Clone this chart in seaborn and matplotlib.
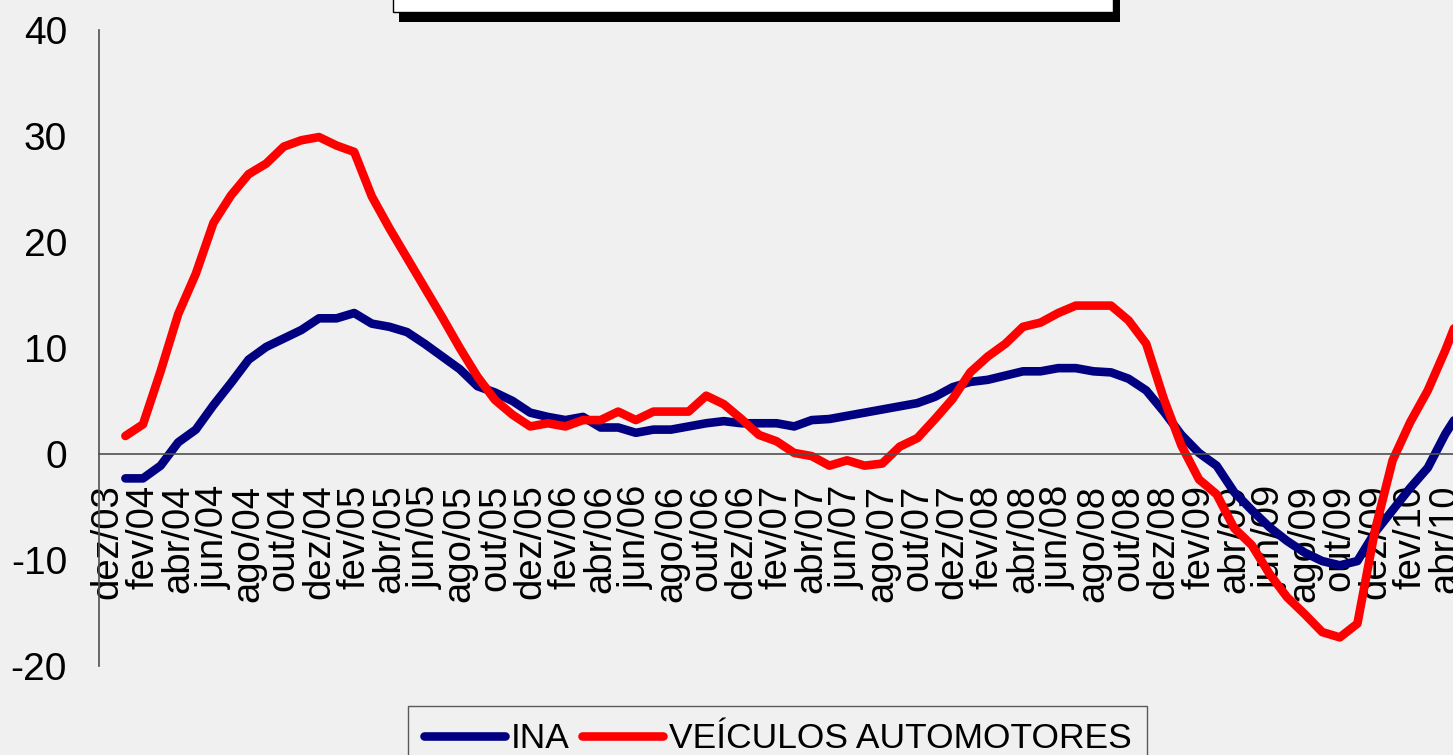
import numpy as np
import pandas as pd
import matplotlib
matplotlib.use("Agg")
import matplotlib.pyplot as plt
import seaborn as sns
from matplotlib.lines import Line2D
from matplotlib.patches import Rectangle

# Variação (%) mensal, de dez/03 a mai/10 - dez/03 sem dado
ina = [np.nan, -2.3, -2.3, -1.1, 1.1, 2.3, 4.6, 6.7, 8.9, 10.1,
       10.9, 11.7, 12.8, 12.8, 13.3, 12.3, 12.0, 11.5, 10.4, 9.2,
       8.0, 6.4, 5.8, 5.0, 3.9, 3.5, 3.2, 3.5, 2.5, 2.5,
       2.0, 2.3, 2.3, 2.6, 2.9, 3.1, 2.9, 2.9, 2.9, 2.6,
       3.2, 3.3, 3.6, 3.9, 4.2, 4.5, 4.8, 5.4, 6.3, 6.8,
       7.0, 7.4, 7.8, 7.8, 8.1, 8.1, 7.8, 7.7, 7.1, 6.0,
       4.0, 1.8, 0.1, -1.1, -3.6, -5.3, -6.9, -8.2, -9.3, -10.1,
       -10.5, -10.1, -7.4, -5.3, -3.2, -1.3, 1.9, 4.5]
veiculos = [np.nan, 1.7, 2.8, 7.8, 13.2, 17.0, 21.8, 24.4, 26.4, 27.4,
            29.0, 29.6, 29.9, 29.1, 28.5, 24.3, 21.3, 18.5, 15.7, 12.9,
            10.0, 7.3, 5.1, 3.7, 2.6, 2.9, 2.6, 3.2, 3.2, 4.0,
            3.2, 4.0, 4.0, 4.0, 5.5, 4.7, 3.3, 1.8, 1.2, 0.1,
            -0.2, -1.1, -0.6, -1.1, -0.9, 0.7, 1.5, 3.3, 5.2, 7.7,
            9.2, 10.4, 12.0, 12.4, 13.3, 14.0, 14.0, 14.0, 12.6, 10.4,
            5.2, 0.8, -2.4, -3.8, -7.0, -8.6, -11.3, -13.5, -15.1, -16.8,
            -17.3, -16.0, -7.2, -0.6, 3.0, 6.0, 9.8, 14.0]
rotulos = ["dez/03", "fev/04", "abr/04", "jun/04", "ago/04", "out/04",
           "dez/04", "fev/05", "abr/05", "jun/05", "ago/05", "out/05",
           "dez/05", "fev/06", "abr/06", "jun/06", "ago/06", "out/06",
           "dez/06", "fev/07", "abr/07", "jun/07", "ago/07", "out/07",
           "dez/07", "fev/08", "abr/08", "jun/08", "ago/08", "out/08",
           "dez/08", "fev/09", "abr/09", "jun/09", "ago/09", "out/09",
           "dez/09", "fev/10", "abr/10"]
series = ["INA", "VEÍCULOS AUTOMOTORES"]
cores = {"INA": "#000080", "VEÍCULOS AUTOMOTORES": "#ff0000"}

meses = np.arange(len(ina))
df = pd.DataFrame({
    "mes": np.concatenate([meses, meses]),
    "valor": ina + veiculos,
    "serie": [series[0]] * len(ina) + [series[1]] * len(veiculos),
})

sns.set_style("white")
plt.rcParams["font.family"] = ["Liberation Sans", "DejaVu Sans"]
plt.rcParams["axes.unicode_minus"] = False
plt.rcParams["text.color"] = "black"
plt.rcParams["xtick.color"] = "black"
plt.rcParams["ytick.color"] = "black"

W, H = 1453, 755
fig = plt.figure(figsize=(W / 100, H / 100), dpi=100, facecolor="#f0f0f0")
# area do grafico passa da borda direita, como no original recortado
ax = fig.add_axes([99 / W, 89 / H, 1372.8 / W, 636 / H])
ax.patch.set_alpha(0)

sns.lineplot(data=df, x="mes", y="valor", hue="serie", palette=cores,
             linewidth=6.2, estimator=None, sort=False, legend=False, ax=ax)

ax.set_xlim(-0.5, len(ina) - 0.5)
ax.set_ylim(-20, 40)
ax.set_yticks(range(-20, 41, 10))
ax.set_xlabel("")
ax.set_ylabel("")

cinza = "#505050"
for lado in ["top", "right"]:
    ax.spines[lado].set_visible(False)
ax.spines["bottom"].set_position(("data", 0))
ax.spines["left"].set_color(cinza)
ax.spines["bottom"].set_color(cinza)
ax.spines["left"].set_linewidth(1.2)
ax.spines["bottom"].set_linewidth(1.2)

ax.set_xticks(np.arange(0, len(ina), 2))
ax.set_xticklabels(rotulos, rotation=90)
ax.set_xticks(np.arange(1.5, len(ina), 2), minor=True)
ax.tick_params(axis="x", which="major", length=0, pad=22, labelsize=27.5)
ax.tick_params(axis="x", which="minor", length=9, width=1.2, color=cinza,
               direction="out")
ax.tick_params(axis="y", length=9, width=1.2, color=cinza, direction="out",
               pad=14, labelsize=28)
ax.grid(False)

# legenda na base
alcas = [Line2D([], [], color=cores[s], lw=6.2, solid_capstyle="round") for s in series]
leg = fig.legend(alcas, series, loc="upper left", bbox_to_anchor=(408 / W, 1 - 706 / H),
                 ncol=2, fontsize=25.5, frameon=True, fancybox=False,
                 edgecolor="#333333", facecolor="none", handlelength=2.3,
                 handletextpad=0.15, columnspacing=0.35, borderpad=0.45,
                 borderaxespad=0)
leg.get_frame().set_linewidth(1.0)

# caixa do titulo (recortada no topo)
fig.add_artist(Rectangle((399 / W, 1 - 22 / H), (1120 - 399) / W, 30 / H,
                         transform=fig.transFigure, facecolor="black",
                         edgecolor="none", clip_on=False))
fig.add_artist(Rectangle((393 / W, 1 - 12 / H), (1113 - 393) / W, 20 / H,
                         transform=fig.transFigure, facecolor="white",
                         edgecolor="black", linewidth=1, clip_on=False))

fig.savefig("out.png", dpi=100, facecolor=fig.get_facecolor())
